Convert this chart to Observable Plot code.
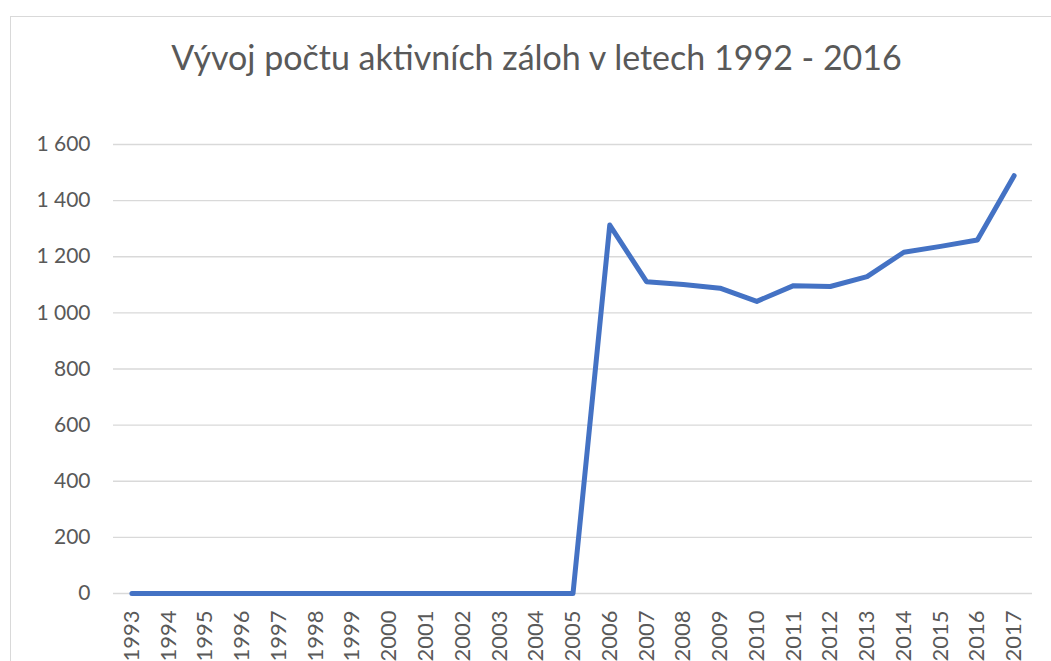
<!DOCTYPE html>
<html>
<head>
<meta charset="utf-8">
<script src="https://cdn.jsdelivr.net/npm/d3@7"></script>
<script src="https://cdn.jsdelivr.net/npm/@observablehq/plot@0.6"></script>
<style>
  html, body { margin: 0; padding: 0; background: #fff; overflow: hidden; width: 1051px; height: 661px; }
  #frame { position: absolute; left: 10px; top: 16px; width: 1100px; height: 700px; border: 1px solid #d9d9d9; box-sizing: border-box; }
  #title { position: absolute; left: 0; top: 37px; width: 1073px; text-align: center; font-family: Lato, sans-serif; font-size: 34px; line-height: 1.2; color: #595959; white-space: nowrap; }
  #chart { position: absolute; left: 0; top: 120px; }
</style>
</head>
<body>
<div id="frame"></div>
<div id="title">Vývoj počtu aktivních záloh v letech 1992 - 2016</div>
<div id="chart"></div>
<script>
const years = [1993, 1994, 1995, 1996, 1997, 1998, 1999, 2000, 2001, 2002, 2003, 2004, 2005,
               2006, 2007, 2008, 2009, 2010, 2011, 2012, 2013, 2014, 2015, 2016, 2017];
const values = [0, 0, 0, 0, 0, 0, 0, 0, 0, 0, 0, 0, 0,
                1313, 1111, 1101, 1088, 1041, 1097, 1094, 1129, 1216, 1237, 1260, 1489];
const yTicks = [0, 200, 400, 600, 800, 1000, 1200, 1400, 1600];

const data = years.map((year, i) => ({year, value: values[i]}));
const fmt = d => d3.format(",")(d).replace(/,/g, " ");

const chart = Plot.plot({
  width: 1051,
  height: 541,
  marginLeft: 113,
  marginRight: 19,
  marginTop: 24,
  marginBottom: 68,
  style: { fontFamily: "Lato, sans-serif", fontSize: "20px", color: "#595959", background: "transparent", overflow: "visible" },
  x: { type: "linear", domain: [years[0] - 0.5, years[years.length - 1] + 0.5], label: null },
  y: { domain: [0, 1600], ticks: yTicks, label: null },
  marks: [
    Plot.gridY(yTicks, { stroke: "#d9d9d9", strokeOpacity: 1, strokeWidth: 1.3 }),
    Plot.axisY(yTicks, { tickSize: 0, tickPadding: 23, tickFormat: fmt, fontSize: 21, fill: "#595959" }),
    Plot.axisX(years, { tickSize: 0, tickPadding: 17, tickRotate: -90, tickFormat: d => String(d), fontSize: 22, fill: "#595959" }),
    Plot.line(data, { x: "year", y: "value", stroke: "#4472C4", strokeWidth: 5, strokeLinejoin: "round", strokeLinecap: "round" })
  ]
});
document.getElementById("chart").appendChild(chart);
</script>
</body>
</html>
